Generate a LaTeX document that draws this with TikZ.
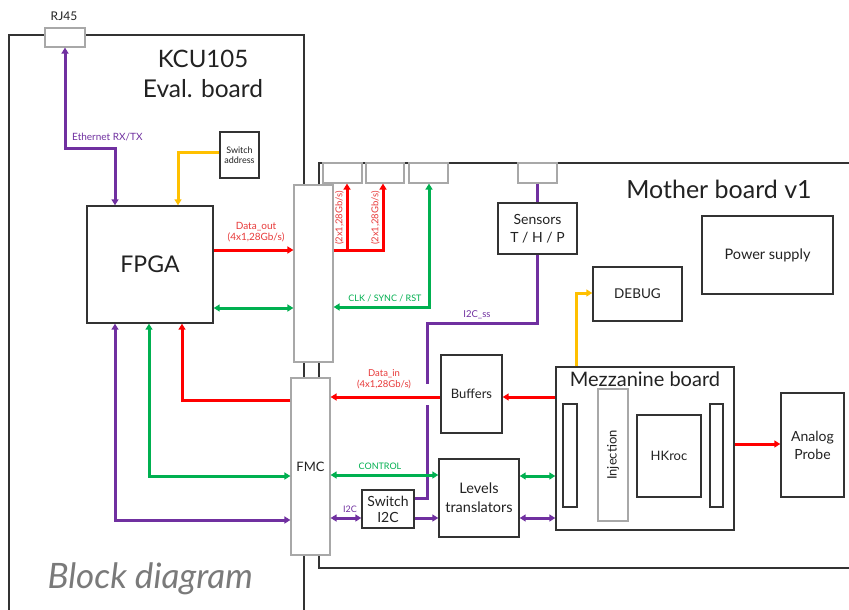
\documentclass[tikz,border=0pt]{standalone}
\usepackage{fontspec}
\setmainfont{Lato}
\usetikzlibrary{arrows.meta,calc}
\definecolor{cpur}{HTML}{7030A0}
\definecolor{cgrn}{HTML}{00B050}
\definecolor{cred}{HTML}{FF0000}
\definecolor{cyel}{HTML}{FFC000}
\definecolor{cline}{HTML}{333333}
\definecolor{ctext}{HTML}{222222}
\definecolor{clight}{HTML}{A8A8A8}
\definecolor{clred}{HTML}{E83A3A}
\tikzset{
  fs/.style 2 args={font=\fontsize{#1}{#2}\selectfont},
  sz/.style 2 args={minimum width=#1pt,minimum height=#2pt},
  box/.style={draw=cline,line width=1.4pt,fill=white,inner sep=0pt,align=center,text=ctext},
  gbox/.style={draw=clight,line width=1.2pt,fill=white,inner sep=0pt,align=center,text=ctext},
  board/.style={draw=cline,line width=1.8pt},
  tip/.style={arrows={-{Triangle[length=6pt,width=7pt]}}},
  dtip/.style={arrows={{Triangle[length=6pt,width=7pt]}-{Triangle[length=6pt,width=7pt]}}},
  pl/.style={draw=cpur,line width=3pt},
  gl/.style={draw=cgrn,line width=3pt},
  rl/.style={draw=cred,line width=3pt},
  yl/.style={draw=cyel,line width=3pt},
  lbl/.style={fs={9}{10.5},align=center,inner sep=0pt}
}
\begin{document}
\begin{tikzpicture}[x=1pt,y=-1pt]
\useasboundingbox (0,0) rectangle (849,610);
\fill[white] (0,0) rectangle (849,610);

% boards
\draw[board] (9,610) -- (9,35) -- (304,35) -- (304,185);
\draw[board] (304,362) -- (304,378);
\draw[board] (319,362) -- (319,378);
\draw[board] (304,555) -- (304,610);
\draw[board] (319,185) -- (319,163) -- (849,163);
\draw[board] (319,555) -- (319,568) -- (849,568);

% texts of boards
\node[anchor=base,fs={24}{28},text=ctext] (kcu) at (203,67) {KCU105};
\node[anchor=base,fs={24.5}{28},text=ctext] (eval) at (203,97) {Eval. board};
\node[anchor=base,fs={25}{28},text=ctext] (mbt) at (719,198) {Mother board v1};
\node[anchor=base west,text=black!52,font=\fontsize{35}{38}\selectfont\itshape] (bd) at (44,588) {Block diagram};
\node[fs={12}{14},text=ctext] (rjl) at (64,16) {RJ45};

% nodes
\node[gbox,sz={40}{19}] (rj) at (65,37.5) {};
\node[box,sz={39}{46},fs={9}{10}] (swa) at (239.5,155) {Switch\\address};
\node[box,sz={126}{117},fs={23}{26}] (fpga) at (150,264.5) {FPGA};
\node[gbox,sz={39}{177}] (fmcup) at (313.5,273.5) {};
\node[gbox,sz={39}{177},fs={13}{15}] (fmc) at (310.5,466.5) {FMC};
\node[gbox,sz={39}{20}] (c1) at (342.5,173) {};
\node[gbox,sz={38}{20}] (c2) at (385,173) {};
\node[gbox,sz={39}{20}] (c3) at (428.5,173) {};
\node[gbox,sz={39}{20}] (c4) at (537.5,173) {};
\node[box,sz={79}{51},fs={14}{18}] (sens) at (537.5,228.5) {Sensors\\T / H / P};
\node[box,sz={61}{78},fs={13}{15}] (buf) at (471.5,394) {Buffers};
\node[box,sz={80}{78},fs={14.5}{19}] (lev) at (479,498) {Levels\\translators};
\node[box,sz={52}{38},fs={14}{16}] (swi) at (388,509) {Switch\\I2C};
\node[box,sz={178}{163}] (mez) at (645,448.5) {};
\node[anchor=base,fs={20}{22},text=ctext] (mezt) at (645,386) {Mezzanine board};
\node[box,sz={14}{103}] (slotl) at (570,455.5) {};
\node[gbox,sz={30}{132}] (inj) at (613,455) {};
\node[rotate=90,fs={13}{15},text=ctext] (injt) at (inj.center) {Injection};
\node[box,sz={64}{82},fs={13}{15}] (hk) at (669,456) {HKroc};
\node[box,sz={13}{103}] (slotr) at (716.5,455.5) {};
\node[box,sz={63}{104},fs={14}{18}] (ap) at (812.5,445) {Analog\\Probe};
\node[box,sz={89}{54},fs={13.5}{15}] (dbg) at (637.5,294) {DEBUG};
\node[box,sz={131}{78},fs={14.5}{16}] (ps) at (767.5,255) {Power supply};

% KCU side connectors
\draw[pl,dtip] (rj.south) |- (115,148) -- (fpga.north -| 115,0);
\node[lbl,anchor=west,text=cpur,fs={10}{11}] (ethl) at (72,137) {Ethernet RX/TX};
\draw[yl,tip] (swa.west |- 0,152) -| (fpga.north -| 178,0);
\draw[rl,tip] (fpga.east |- 0,250) -- (fmcup.west |- 0,250);
\node[lbl,text=clred,fs={10}{11}] (dol) at (256,232) {Data\_out\\(4x1,28Gb/s)};
\draw[gl,dtip] (fpga.east |- 0,308) -- (fmcup.west |- 0,308);
\draw[pl,dtip] (fpga.south -| 115,0) |- (fmc.west |- 0,520);
\draw[gl,dtip] (fpga.south -| 149,0) |- (fmc.west |- 0,476);
\draw[rl,tip] (fmc.west |- 0,400) -| (fpga.south -| 182,0);

% upper connector to mother board
\draw[rl,tip] (fmcup.east |- 0,250) -| (c2.south -| 383,0);
\coordinate (rbr) at (347,250);
\draw[rl,tip] (rbr) -- (c1.south -| 347,0);
\node[lbl,rotate=90,text=clred,fs={9.5}{11}] (l1) at (339.5,218) {(2x1,28Gb/s)};
\node[lbl,rotate=90,text=clred,fs={9.5}{11}] (l2) at (375.5,218) {(2x1,28Gb/s)};
\draw[gl,dtip] (c3.south -| 429,0) |- (fmcup.east |- 0,307);
\node[lbl,text=cgrn] (clk) at (385,298) {CLK / SYNC / RST};

% sensors I2C
\draw[pl] (c4.south) -- (sens.north);
\draw[pl] (sens.south) |- (427,323) -- (427,498) -- (swi.east |- 0,498);
\node[lbl,text=cpur,fs={9.5}{11}] (i2css) at (477,315) {I2C\_ss};
\fill[white] (420,384) rectangle (434,405);

% FMC side
\draw[rl,tip] (buf.west |- 0,397) -- (fmc.east |- 0,397);
\node[lbl,text=clred,fs={9.5}{11}] (dil) at (384,379) {Data\_in\\(4x1,28Gb/s)};
\draw[rl,tip] (mez.west |- 0,397) -- (buf.east |- 0,397);
\draw[gl,dtip] (fmc.east |- 0,475) -- (lev.west |- 0,475);
\node[lbl,text=cgrn] (ctl) at (380,466) {CONTROL};
\draw[pl,dtip] (fmc.east |- 0,518) -- (swi.west |- 0,518);
\node[lbl,text=cpur] (i2cl) at (350,509) {I2C};
\draw[pl,tip] (swi.east |- 0,518) -- (lev.west |- 0,518);
\draw[gl,dtip] (lev.east |- 0,476) -- (mez.west |- 0,476);
\draw[pl,dtip] (lev.east |- 0,518) -- (mez.west |- 0,518);
\draw[rl,tip] (mez.east |- 0,444) -- (ap.west |- 0,444);
\draw[yl,tip] (mez.north -| 576,0) |- (dbg.west |- 0,293);
\end{tikzpicture}
\end{document}
